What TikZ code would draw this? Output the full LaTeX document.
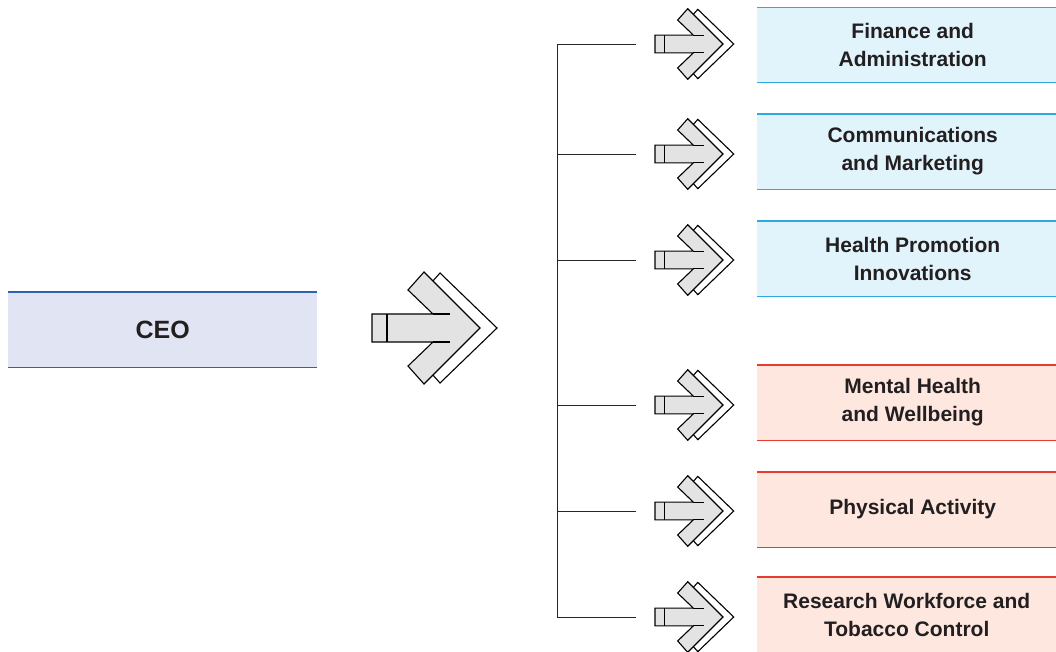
\documentclass[tikz,border=0pt]{standalone}
\usepackage{fontspec}
\setmainfont{Liberation Sans}
\definecolor{txt}{HTML}{231F20}
\definecolor{ceofill}{HTML}{E1E4F3}
\definecolor{ceoline}{HTML}{2B64B0}
\definecolor{bluefill}{HTML}{E1F3FB}
\definecolor{blueline}{HTML}{2FA8DF}
\definecolor{redfill}{HTML}{FDE7DF}
\definecolor{redline}{HTML}{E63B2E}
\definecolor{arrgray}{HTML}{E3E3E3}
\begin{document}
\begin{tikzpicture}[x=1pt,y=-1pt,
  unitbox/.style={rectangle, inner sep=0pt, minimum width=299pt, minimum height=75pt, anchor=west,
     text=txt, align=center, font=\fontsize{21}{28}\selectfont\bfseries},
  bluebox/.style={unitbox, fill=bluefill},
  redbox/.style={unitbox, fill=redfill},
  ceobox/.style={unitbox, fill=ceofill, minimum width=309pt, font=\fontsize{25}{30}\selectfont\bfseries},
  deptlabel/.style={text=txt, align=center, font=\fontsize{21}{28}\selectfont\bfseries, inner sep=0pt},
  edgeline/.style={line width=1.4pt},
  branch/.style={line width=0.9pt, black!85},
  chev/.pic={
    \draw[line width=1.1pt, fill=white, line join=miter]
      (-40,-55) -- (17,0) -- (-40,55) -- (-56,37) -- (-18,0) -- (-56,-37) -- cycle;
    \draw[line width=1.1pt, fill=arrgray, line join=miter]
      (-108,-14) -- (-47,-14) -- (-72,-38) -- (-56,-56) -- (0,0) -- (-56,56)
      -- (-72,38) -- (-47,14) -- (-108,14) -- cycle;
    \draw[line width=1.1pt] (-93,-14) -- (-93,14);
    \draw[line width=1.1pt] (-47,-14) -- (-30,-14) (-47,14) -- (-30,14);
  }]
\useasboundingbox (0,0) rectangle (1056,651);

% CEO
\node[ceobox] (ceo) at (8,329.5) {CEO};
\draw[edgeline, ceoline] (ceo.north west) -- (ceo.north east);
\draw[edgeline, ceoline] (ceo.south west) -- (ceo.south east);

% big arrow
\pic at (480,328) {chev};

% department boxes
\node[bluebox] (b1) at (757,45) {};
\node[bluebox] (b2) at (757,151.5) {};
\node[bluebox] (b3) at (757,258.5) {};
\node[redbox] (b4) at (757,402.5) {};
\node[redbox] (b5) at (757,509.5) {};
\node[redbox] (b6) at (757,614.5) {};
\node[deptlabel] (l1) at ([xshift=6pt]b1.center) {Finance and\\Administration};
\node[deptlabel] (l2) at ([xshift=6pt]b2.center) {Communications\\and Marketing};
\node[deptlabel] (l3) at ([xshift=6pt]b3.center) {Health Promotion\\Innovations};
\node[deptlabel] (l4) at ([xshift=6pt]b4.center) {Mental Health\\and Wellbeing};
\node[deptlabel] (l5) at ([xshift=6pt]b5.center) {Physical Activity};
\node[deptlabel] (l6) at ([xshift=0pt]b6.center) {Research Workforce and\\Tobacco Control};
\foreach \n in {b1,b2,b3}{
  \draw[edgeline, blueline] (\n.north west) -- (\n.north east);
  \draw[edgeline, blueline] (\n.south west) -- (\n.south east);
}
\foreach \n in {b4,b5,b6}{
  \draw[edgeline, redline] (\n.north west) -- (\n.north east);
  \draw[edgeline, redline] (\n.south west) -- (\n.south east);
}

% branch lines
\coordinate (t1) at (557,44);
\coordinate (t6) at (557,617);
\draw[branch] (t1) -- (t6);
\foreach \y [count=\i] in {44,154,260,405,511,617}{
  \coordinate (s\i) at (557,\y);
  \coordinate (e\i) at (636,\y);
  \draw[branch] (s\i) -- (e\i);
  \pic[scale=0.63] at (723,\y) {chev};
}
\end{tikzpicture}
\end{document}
